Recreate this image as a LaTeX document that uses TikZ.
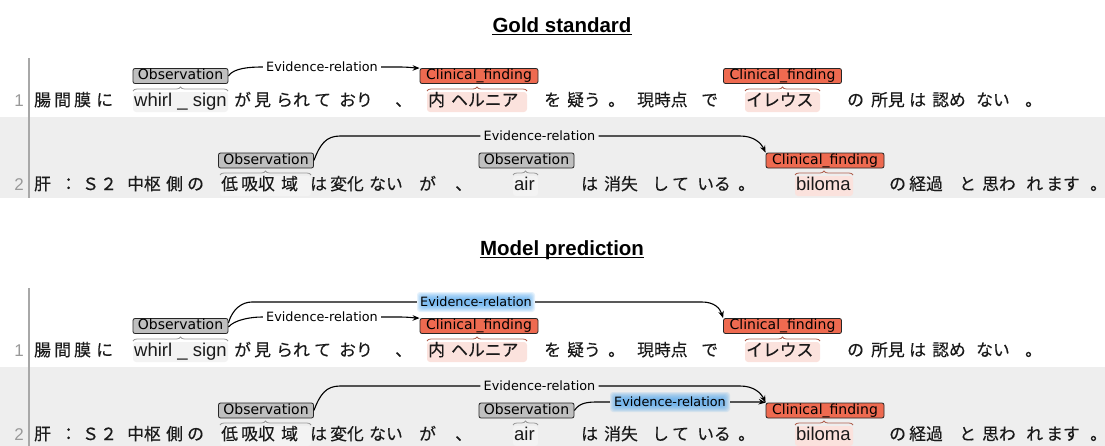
\documentclass[tikz,border=0pt]{standalone}
\usepackage{fontspec}
\setmainfont{Liberation Sans}
\newfontfamily\jpf[FakeBold=0.4]{Noto Sans CJK JP}
\newfontfamily\latf{Liberation Sans}
\newfontfamily\labf{DejaVu Sans}
\usetikzlibrary{arrows.meta,decorations.pathreplacing}

\definecolor{rowgray}{HTML}{EEEEEE}
\definecolor{rulegray}{HTML}{A8A8A8}
\definecolor{numgray}{HTML}{999999}
\definecolor{obsfill}{HTML}{BFBFBF}
\definecolor{obshl}{HTML}{F3F3F3}
\definecolor{obsbrace}{HTML}{9A9A9A}
\definecolor{cffill}{HTML}{EE6A50}
\definecolor{cfhl}{HTML}{FBE2DD}
\definecolor{cfbrace}{HTML}{B0604F}
\definecolor{glowblue}{HTML}{46A0EB}
\definecolor{ink}{HTML}{1A1A1A}

\newcommand\lattok{\latf\fontsize{18.5}{19}\selectfont}
\newcommand\lastdot{\makebox[8pt][l]{。}}

\tikzset{
  tok/.style={anchor=base west, inner sep=0pt, text=ink, font=\jpf\fontsize{16.8}{18}\selectfont},
  num/.style={anchor=base east, inner sep=0pt, text=numgray, font=\latf\fontsize{17}{18}\selectfont},
  ttl/.style={anchor=base, inner sep=0pt, font=\latf\bfseries\fontsize{20.5}{22}\selectfont},
  spanlab/.style={inner sep=0pt, minimum height=15pt, text height=10pt, text depth=2.5pt,
    rounded corners=2pt, draw=black!85, line width=0.8pt, font=\labf\fontsize{14}{15}\selectfont},
  obs/.style={spanlab, fill=obsfill, minimum width=95pt},
  cf/.style={spanlab, fill=cffill, minimum width=118pt},
  rel/.style={inner sep=0pt, inner xsep=3pt, minimum height=12pt, text height=8pt, text depth=0pt,
    font=\labf\fontsize{12.8}{13}\selectfont},
  arcl/.style={draw=black, line width=1.1pt},
  arr/.style={-{Stealth[length=7pt,width=5.5pt]}},
  brc/.style={decorate, decoration={brace, amplitude=4pt}, line width=0.8pt},
  obsbr/.style={brc, draw=obsbrace},
  cfbr/.style={brc, draw=cfbrace},
  hlobs/.style={fill=obshl, rounded corners=3pt},
  hlcf/.style={fill=cfhl, rounded corners=3pt},
}

% first sentence, tokens placed along baseline #1, node names prefixed #2
\newcommand\sentone[2]{%
  \foreach \x/\w [count=\i] in {34/腸,54/間,74/膜,96/に,134/{\lattok whirl \_ sign},
      234/が,254/見,276/られ,314/て,339/おり,395/、,428/内,451/ヘルニア,544/を,
      567/疑う,608/。,637/現時点,701/で,746/イレウス,847/の,871/所見,909/は,
      932/認め,976/ない,1025/。}
    {\node[tok] (#2-a\i) at (\x,#1) {\w};}}

% second sentence
\newcommand\senttwo[2]{%
  \foreach \x/\w [count=\i] in {34/肝,60/：,82/Ｓ,100/２,127/中枢,166/側,187/の,221/低,
      241/吸収,281/域,310/は,330/変化,369/ない,419/が,455/、,514/{\lattok air},581/は,
      604/消失,652/し,672/て,697/いる,738/。,796/{\lattok biloma},889/の,909/経過,
      959/と,982/思わ,1026/れ,1046/ます,1090/\lastdot}
    {\node[tok] (#2-b\i) at (\x,#1) {\w};}}

% soft blue halo: centre (#1,#2), core half sizes #3 x #4
\newcommand\glowbox[4]{%
  \foreach \k in {0,...,7}
    {\fill[glowblue, fill opacity=0.14, rounded corners=3pt]
      (#1-#3-\k,#2-#4-\k) rectangle (#1+#3+\k,#2+#4+\k);}}

% the two annotated sentences with their span labels (prefix #1)
\newcommand\sentences[1]{%
  % highlights
  \fill[hlobs] (133,92) rectangle (228,112);
  \fill[hlcf] (427,92) rectangle (527,112);
  \fill[hlcf] (745,92) rectangle (820,112);
  \fill[hlobs] (220,176) rectangle (311,196);
  \fill[hlobs] (513,176) rectangle (538,196);
  \fill[hlcf] (795,176) rectangle (853,196);
  % text
  \node[num] (#1-n1) at (24,106) {1};
  \node[num] (#1-n2) at (24,190) {2};
  \sentone{106}{#1}
  \senttwo{190}{#1}
  % braces
  \draw[obsbr] (133,91) -- (228,91);
  \draw[cfbr] (427,91) -- (527,91);
  \draw[cfbr] (745,91) -- (820,91);
  \draw[obsbr] (220,175) -- (311,175);
  \draw[obsbr] (513,175) -- (538,175);
  \draw[cfbr] (795,175) -- (853,175);
  % span labels
  \node[obs] (#1-o1) at (180.5,76) {Observation};
  \node[cf] (#1-c1) at (479,76) {Clinical\_finding};
  \node[cf] (#1-c2) at (782.5,76) {Clinical\_finding};
  \node[obs] (#1-o2) at (266,160.5) {Observation};
  \node[obs] (#1-o3) at (526.5,160.5) {Observation};
  \node[cf] (#1-c3) at (825,160.5) {Clinical\_finding};
  % relation shared by both panels
  \node[rel] (#1-r1) at (322,67) {Evidence-relation};
  \node[rel] (#1-r2) at (539.5,136) {Evidence-relation};
  \draw[arcl] (#1-o2.east) .. controls +(6,-16) and +(-14,0) .. (340,136) -- (#1-r2.west);
  \draw[arcl,arr] (#1-r2.east) -- (740,136) .. controls (754,136) and (761,143) .. (#1-c3.north west);
}

\begin{document}
\begin{tikzpicture}[x=1pt,y=-1pt]
\useasboundingbox (0,0) rectangle (1105,445);

% ---------- gold standard ----------
\node[ttl] (tgold) at (562,32) {Gold standard};
\draw[line width=1.4pt] ([yshift=-2.3pt]tgold.base west) -- ([yshift=-2.3pt]tgold.base east);
\fill[rowgray] (0,117) rectangle (1105,198);
\draw[rulegray, line width=2pt] (29,58) -- (29,198);
\sentences{g}
\draw[arcl] (g-o1.east) .. controls +(5,-8) and +(-12,0) .. (262,67) -- (g-r1.west);
\draw[arcl,arr] (g-r1.east) -- (398,67) .. controls (410,67) and (415,68) .. (g-c1.north west);

% ---------- model prediction ----------
\node[ttl] (tmodel) at (562,255) {Model prediction};
\draw[line width=1.4pt] ([yshift=-2.3pt]tmodel.base west) -- ([yshift=-2.3pt]tmodel.base east);
\begin{scope}[yshift=-250pt]
  \fill[rowgray] (0,117) rectangle (1105,200);
  \draw[rulegray, line width=2pt] (29,38) -- (29,200);
  \sentences{m}
  % first sentence: two relations from the same observation
  \glowbox{476}{52}{52}{3}
  \node[rel, minimum width=118pt] (m-r3) at (476,52) {Evidence-relation};
  \draw[arcl] ([yshift=3pt]m-o1.east) .. controls +(4,-14) and +(-10,0) .. (252,52) -- (m-r3.west);
  \draw[arcl,arr] (m-r3.east) -- (702,52) .. controls (714,52) and (720,58) .. (m-c2.north west);
  \draw[arcl] ([yshift=-1pt]m-o1.east) .. controls +(6,-7) and +(-12,0) .. (262,67) -- (m-r1.west);
  \draw[arcl,arr] (m-r1.east) -- (398,67) .. controls (410,67) and (415,68) .. (m-c1.north west);
  % second sentence: extra relation from "air"
  \glowbox{670}{152}{53}{3}
  \node[rel, minimum width=120pt] (m-r4) at (670,152) {Evidence-relation};
  \draw[arcl] (m-o3.east) .. controls +(5,-8) and +(-10,0) .. (598,152) -- (m-r4.west);
  \draw[arcl,arr] (m-r4.east) -- (746,152) .. controls (755,152) and (761,152) .. (m-c3.north west);
\end{scope}
\end{tikzpicture}
\end{document}
